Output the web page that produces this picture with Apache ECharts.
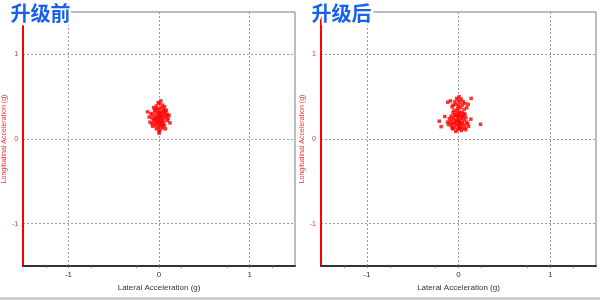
<!DOCTYPE html>
<html><head><meta charset="utf-8">
<script src="https://cdn.jsdelivr.net/npm/echarts@6/dist/echarts.min.js"></script>
<style>html,body{margin:0;padding:0;background:#fff}#c{width:600px;height:300px}</style>
</head><body><div id="c"></div>
<script>
var panelTitles = ['升级前', '升级后'];
var xName = 'Lateral Acceleration (g)';
var yName = 'Longitudinal Acceleration (g)';
var tickLabels = [-1, 0, 1];
var minorTicks = [-1.25, -1, -0.75, -0.25, 0, 0.25, 0.75, 1, 1.25];
var axisMin = -1.5, axisMax = 1.5;

var beforeData = [
[-0.127,0.32],[-0.03,0.39],[0.004,0.42],[0.04,0.40],[0.11,0.28],[-0.1,0.2],[0.0,0.07],
[-0.02,0.36],[0.02,0.37],[0.05,0.35],[-0.05,0.33],[0.0,0.34],[0.03,0.32],[-0.03,0.31],[0.07,0.31],
[-0.07,0.29],[0.01,0.30],[0.05,0.29],[-0.01,0.28],[0.08,0.27],[-0.04,0.27],[0.02,0.26],[-0.08,0.25],
[0.06,0.25],[0.0,0.24],[-0.03,0.23],[0.04,0.23],[-0.06,0.22],[0.09,0.22],[0.01,0.21],[-0.02,0.20],
[0.05,0.20],[-0.05,0.19],[0.03,0.18],[0.0,0.17],[-0.04,0.16],[0.06,0.16],[0.02,0.15],[-0.01,0.14],
[0.04,0.13],[-0.03,0.12],[0.01,0.11],[0.0,0.09],[0.02,0.45],[-0.01,0.43],[0.06,0.38],[-0.06,0.37],
[0.08,0.34],[-0.09,0.30],[0.1,0.24],[-0.11,0.26],[0.12,0.19],[-0.07,0.15],[0.07,0.12],[-0.02,0.25],
[0.03,0.27],[-0.05,0.24],[0.04,0.17],[-0.08,0.18],[0.09,0.29],[0.0,0.31],[0.02,0.22],[-0.04,0.35],
[0.06,0.33],[-0.01,0.19],[0.01,0.27]
];
var afterData = [
[0.138,0.48],[0.007,0.5],[-0.117,0.435],[-0.088,0.45],[-0.15,0.265],[-0.21,0.21],[-0.19,0.146],
[0.24,0.174],[0.135,0.234],[0.105,0.41],[-0.06,0.4],
[-0.02,0.48],[0.03,0.47],[0.0,0.46],[-0.04,0.44],[0.05,0.44],[0.01,0.43],[-0.03,0.41],[0.04,0.40],
[0.0,0.39],[0.07,0.42],[-0.07,0.38],[0.02,0.37],[-0.01,0.36],[0.06,0.35],[-0.05,0.34],[0.09,0.37],
[-0.02,0.33],[0.01,0.32],[0.04,0.31],[-0.06,0.31],[0.0,0.30],[0.07,0.29],[-0.03,0.29],[0.02,0.28],
[-0.08,0.27],[0.05,0.27],[-0.01,0.26],[0.08,0.25],[-0.05,0.25],[0.03,0.24],[0.0,0.23],[-0.07,0.23],
[0.06,0.22],[-0.03,0.22],[0.01,0.21],[-0.09,0.20],[0.09,0.20],[0.04,0.19],[-0.05,0.19],[0.0,0.18],
[-0.02,0.17],[0.06,0.17],[-0.08,0.16],[0.03,0.16],[0.0,0.15],[-0.04,0.14],[0.07,0.14],[0.02,0.13],
[-0.06,0.12],[0.05,0.12],[-0.01,0.11],[0.03,0.10],[-0.03,0.09],[0.01,0.13],[-0.1,0.24],[0.1,0.18],
[-0.11,0.17],[0.08,0.11],[-0.07,0.13],[0.0,0.27],[0.02,0.19],[-0.02,0.21],[0.04,0.26],[-0.04,0.28],
[0.06,0.30],[-0.06,0.18],[0.11,0.15],[-0.12,0.2]
];
var panelData = [beforeData, afterData];

var chart = echarts.init(document.getElementById('c'), null, {renderer: 'canvas'});
var gridLefts = [20, 321];
var grids = [], xAxes = [], yAxes = [], series = [], graphics = [];
var gridLine = {show: true, lineStyle: {color: '#9a9a9a', width: 1, type: [2, 2]}};
for (var i = 0; i < 2; i++) {
  grids.push({left: gridLefts[i], top: 12, width: 275, height: 254, show: true,
    borderColor: '#7a7a7a', borderWidth: 1, backgroundColor: '#fff'});
  xAxes.push({type: 'value', gridIndex: i, min: axisMin, max: axisMax, position: 'bottom',
    name: xName, nameLocation: 'middle', nameGap: 18,
    nameTextStyle: {color: '#333', fontSize: 8, fontFamily: 'Liberation Sans'},
    axisLine: {show: true, onZero: false, lineStyle: {color: '#333', width: 2}},
    axisTick: {show: true, customValues: tickLabels, length: 2, lineStyle: {color: '#555'}},
    axisLabel: {customValues: tickLabels, color: '#333', fontSize: 8, margin: 5, fontFamily: 'Liberation Sans'},
    splitLine: gridLine});
  xAxes.push({type: 'value', gridIndex: i, min: axisMin, max: axisMax, position: 'bottom',
    axisLine: {show: false, onZero: false},
    axisTick: {show: true, customValues: minorTicks, length: 2, lineStyle: {color: '#777'}},
    axisLabel: {show: false}, splitLine: {show: false}});
  yAxes.push({type: 'value', gridIndex: i, min: axisMin, max: axisMax, position: 'left',
    name: yName, nameLocation: 'middle', nameGap: 10, nameRotate: 90,
    nameTextStyle: {color: '#e83030', fontSize: 7, fontFamily: 'Liberation Sans'},
    axisLine: {show: true, onZero: false, lineStyle: {color: '#ff0000', width: 2}},
    axisTick: {show: false, customValues: tickLabels},
    axisLabel: {customValues: tickLabels, color: '#e83030', fontSize: 7, margin: 5, fontFamily: 'Liberation Sans'},
    splitLine: gridLine});
  series.push({type: 'scatter', xAxisIndex: i * 2, yAxisIndex: i, data: panelData[i],
    symbol: 'rect', symbolSize: 3.5, itemStyle: {color: '#ff0000'}, silent: true});
  graphics.push({type: 'text', left: gridLefts[i] - 12, top: 1, z: 100,
    style: {text: panelTitles[i], fill: '#1660ee', stroke: '#fff', lineWidth: 5,
      font: 'bold 20px "Noto Sans CJK SC"', shadowBlur: 3, shadowColor: 'rgba(0,0,0,0.45)',
      shadowOffsetX: 1, shadowOffsetY: 1}});
}
graphics.push({type: 'rect', left: 0, top: 297, z: 100, shape: {width: 600, height: 3}, style: {fill: '#d0d0d0'}});
chart.setOption({animation: false, grid: grids, xAxis: xAxes, yAxis: yAxes, series: series, graphic: graphics});
</script></body></html>
